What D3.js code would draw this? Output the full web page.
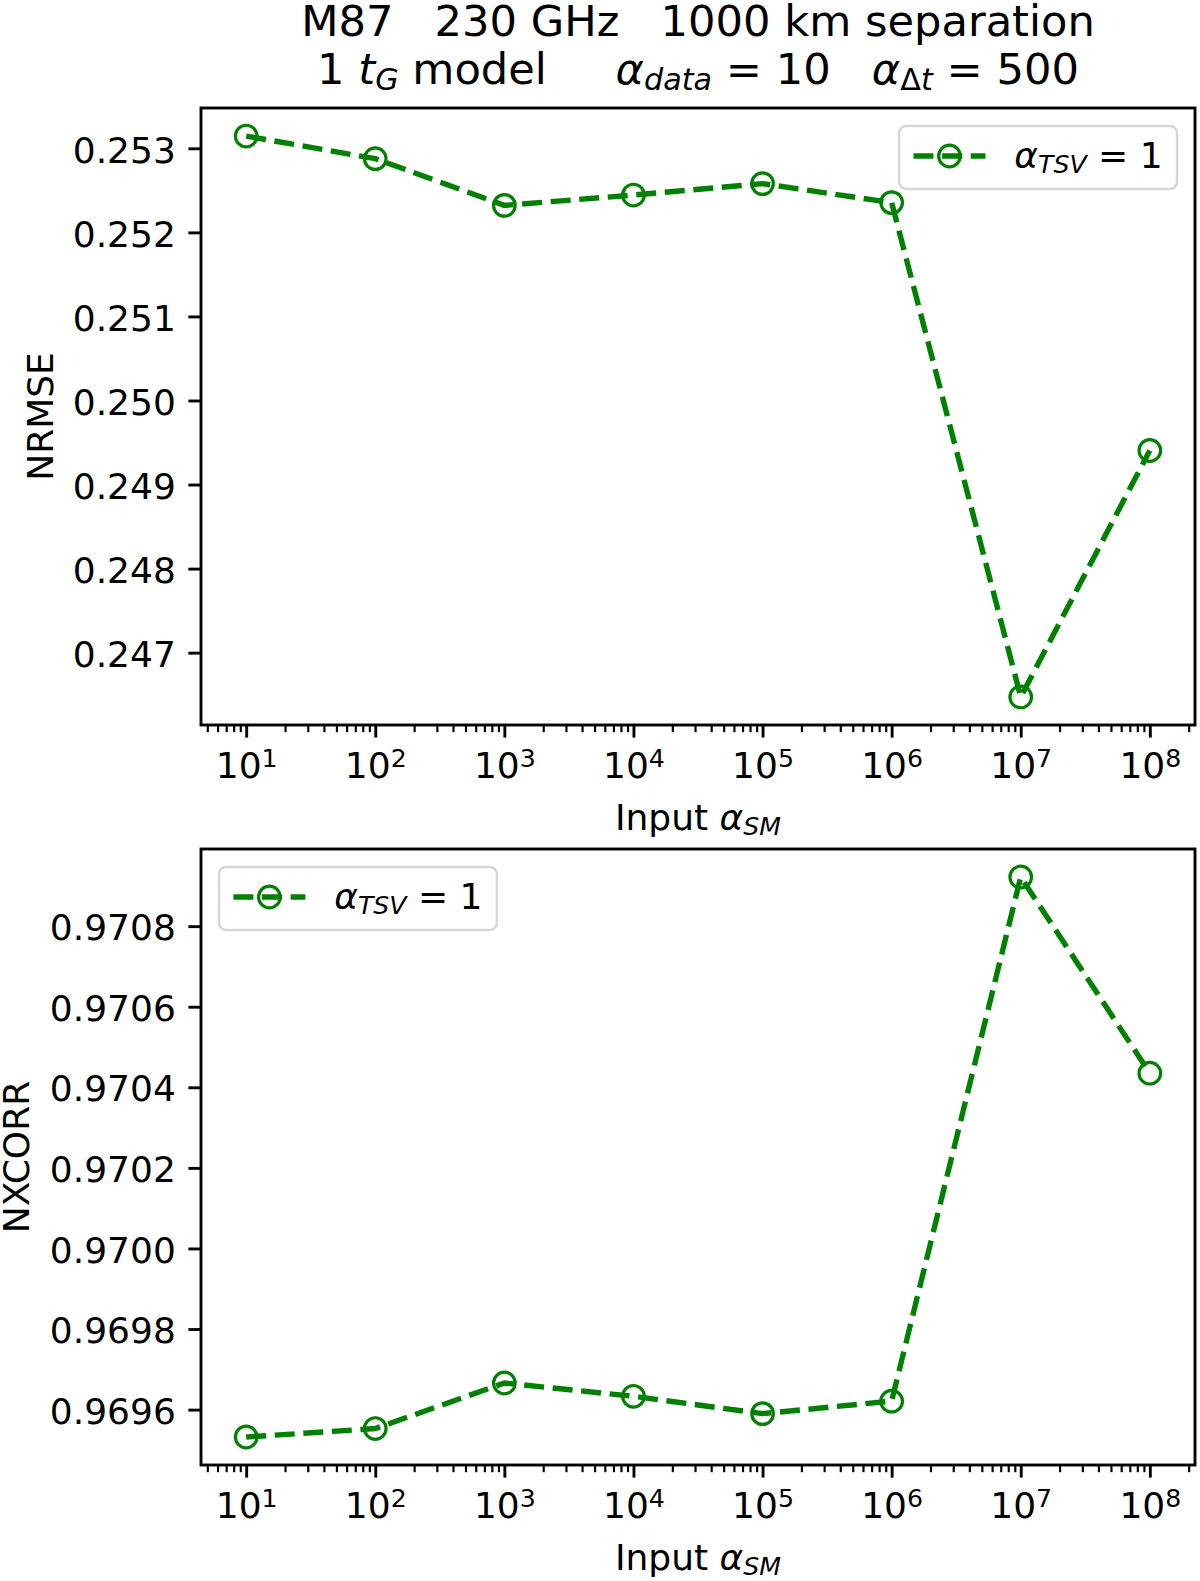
<!DOCTYPE html>
<html>
<head>
<meta charset="utf-8">
<script src="https://cdn.jsdelivr.net/npm/d3@7"></script>
<style>
  body { margin: 0; background: #fff; }
  text { font-family: "DejaVu Sans", sans-serif; fill: #000; }
</style>
</head>
<body>
<svg id="fig" width="1200" height="1581"></svg>
<script>
// data
var alphaSM = [1e1, 1e2, 1e3, 1e4, 1e5, 1e6, 1e7, 1e8];
var nrmse = [0.253146, 0.252877, 0.252321, 0.252444, 0.252580, 0.252354, 0.246473, 0.249405];
var nxcorr = [0.969532, 0.969553, 0.969666, 0.969633, 0.969590, 0.969621, 0.970922, 0.970435];
var nrmseTicks = [0.247, 0.248, 0.249, 0.250, 0.251, 0.252, 0.253];
var nxcorrTicks = [0.9696, 0.9698, 0.9700, 0.9702, 0.9704, 0.9706, 0.9708];
var xTickExps = [1, 2, 3, 4, 5, 6, 7, 8];

var pt = 3.6;          // px per point
var fs = 10 * pt;      // tick / label font size
var green = "#008000";

var svg = d3.select("#fig");
svg.append("rect").attr("width", 1200).attr("height", 1581).attr("fill", "#fff");

// append runs of [text, italic, "sub"/"sup"] as tspans
function richText(sel, runs, size) {
  var shift = 0;
  runs.forEach(function(r) {
    var t = sel.append("tspan").text(r[0]);
    if (r[1]) t.style("font-style", "italic");
    var want = r[2] === "sub" ? size * 0.15 : (r[2] === "sup" ? -size * 0.31 : 0);
    if (want !== shift) { t.attr("dy", want - shift); shift = want; }
    if (r[2]) t.attr("font-size", size * 0.7);
  });
  return sel;
}

// title
var title = svg.append("text")
  .attr("x", 698).attr("text-anchor", "middle")
  .attr("font-size", 12 * pt)
  .attr("xml:space", "preserve").style("white-space", "pre");
title.append("tspan").attr("x", 698).attr("y", 36).text("M87   230 GHz   1000 km separation");
var line2 = title.append("tspan").attr("x", 698).attr("y", 84);
richText(line2, [
  ["1 "], ["t", true], ["G", true, "sub"], [" model     "],
  ["\u03b1", true], ["data", true, "sub"], [" = 10   "],
  ["\u03b1", true], ["\u0394", false, "sub"], ["t", true, "sub"], [" = 500"]
], 12 * pt);

function padDomain(vals) {
  var ext = d3.extent(vals);
  var m = (ext[1] - ext[0]) * 0.05;
  return [ext[0] - m, ext[1] + m];
}

function drawPanel(opt) {
  var left = 201, right = 1195;
  var g = svg.append("g");

  var lx = padDomain(alphaSM.map(Math.log10));
  var x = d3.scaleLog()
    .domain([Math.pow(10, lx[0]), Math.pow(10, lx[1])])
    .range([left, right]);
  var y = d3.scaleLinear()
    .domain(padDomain(opt.values))
    .range([opt.bottom, opt.top]);

  // minor ticks on the log axis
  var minor = [];
  for (var e = 0; e <= 8; e++) {
    for (var k = 2; k <= 9; k++) {
      var v = k * Math.pow(10, e);
      if (v >= x.domain()[0] && v <= x.domain()[1]) minor.push(v);
    }
  }
  g.append("g")
    .attr("transform", "translate(0," + opt.bottom + ")")
    .call(d3.axisBottom(x).tickValues(minor).tickSize(2 * pt).tickFormat(""))
    .call(function(a) {
      a.select(".domain").remove();
      a.selectAll("line").attr("stroke-width", 0.6 * pt);
    });

  var xAxis = g.append("g")
    .attr("transform", "translate(0," + opt.bottom + ")")
    .call(d3.axisBottom(x).tickValues(xTickExps.map(function(d) { return Math.pow(10, d); }))
      .tickSize(3.5 * pt).tickFormat(""));
  xAxis.select(".domain").remove();
  xAxis.selectAll("line").attr("stroke-width", 0.8 * pt);
  xAxis.selectAll(".tick").each(function(d) {
    var t = d3.select(this).append("text")
      .attr("y", 53).attr("dy", null)
      .attr("text-anchor", "middle")
      .attr("font-size", fs);
    richText(t, [["10"], [String(Math.round(Math.log10(d))), false, "sup"]], fs);
  });

  var yAxis = g.append("g")
    .attr("transform", "translate(" + left + ",0)")
    .call(d3.axisLeft(y).tickValues(opt.ticks).tickSize(3.5 * pt)
      .tickPadding(3.5 * pt).tickFormat(d3.format(opt.fmt)));
  yAxis.select(".domain").remove();
  yAxis.selectAll("line").attr("stroke-width", 0.8 * pt);
  yAxis.selectAll("text")
    .attr("font-size", fs).attr("font-family", "DejaVu Sans")
    .attr("fill", "#000").attr("dy", "0.38em");

  // series
  var line = d3.line()
    .x(function(d, i) { return x(alphaSM[i]); })
    .y(function(d) { return y(d); });
  g.append("path")
    .datum(opt.values)
    .attr("d", line)
    .attr("fill", "none")
    .attr("stroke", green)
    .attr("stroke-width", 1.5 * pt)
    .attr("stroke-dasharray", [3.7 * 1.5 * pt, 1.6 * 1.5 * pt].join(","))
    .attr("stroke-linejoin", "round");
  g.selectAll("circle.pt")
    .data(opt.values)
    .enter().append("circle")
    .attr("class", "pt")
    .attr("cx", function(d, i) { return x(alphaSM[i]); })
    .attr("cy", function(d) { return y(d); })
    .attr("r", 3 * pt)
    .attr("fill", "none")
    .attr("stroke", green)
    .attr("stroke-width", 3.2);

  // frame
  g.append("rect")
    .attr("x", left).attr("y", opt.top)
    .attr("width", right - left).attr("height", opt.bottom - opt.top)
    .attr("fill", "none").attr("stroke", "#000").attr("stroke-width", 0.8 * pt);

  // axis labels
  var xl = g.append("text")
    .attr("x", (left + right) / 2).attr("y", opt.bottom + 105)
    .attr("text-anchor", "middle").attr("font-size", fs);
  richText(xl, [["Input "], ["\u03b1", true], ["SM", true, "sub"]], fs);

  g.append("text")
    .attr("transform", "translate(" + opt.ylabelX + "," + ((opt.top + opt.bottom) / 2) + ") rotate(-90)")
    .attr("text-anchor", "middle").attr("font-size", fs)
    .text(opt.ylabel);

  // legend
  var pad = 0.4 * fs, handle = 2 * fs, gap = 0.8 * fs;
  var lg = g.append("g");
  var box = lg.append("rect")
    .attr("y", opt.legTop).attr("height", 63).attr("rx", 7)
    .attr("fill", "#fff").attr("fill-opacity", 0.8)
    .attr("stroke", "#d6d6d6").attr("stroke-width", 2.5);
  var lt = lg.append("text").attr("font-size", fs).attr("y", opt.legTop + 42);
  richText(lt, [["\u03b1", true], ["TSV", true, "sub"], [" = 1"]], fs);
  var tw = lt.node().getComputedTextLength();
  var bw = pad + handle + gap + tw + pad;
  var bx = opt.legRight ? right - 0.5 * fs - bw : left + 0.5 * fs;
  box.attr("x", bx).attr("width", bw);
  lt.attr("x", bx + pad + handle + gap);
  var cy = opt.legTop + 30;
  lg.append("line")
    .attr("x1", bx + pad).attr("x2", bx + pad + handle).attr("y1", cy).attr("y2", cy)
    .attr("stroke", green).attr("stroke-width", 1.5 * pt)
    .attr("stroke-dasharray", [3.7 * 1.5 * pt, 1.6 * 1.5 * pt].join(","));
  lg.append("circle")
    .attr("cx", bx + pad + handle / 2).attr("cy", cy).attr("r", 3 * pt)
    .attr("fill", "none").attr("stroke", green).attr("stroke-width", 3.2);
}

drawPanel({
  values: nrmse, ticks: nrmseTicks, fmt: ".3f",
  top: 108, bottom: 725, ylabel: "NRMSE", ylabelX: 53,
  legTop: 126, legRight: true
});

drawPanel({
  values: nxcorr, ticks: nxcorrTicks, fmt: ".4f",
  top: 849, bottom: 1465, ylabel: "NXCORR", ylabelX: 29,
  legTop: 867, legRight: false
});
</script>
</body>
</html>
